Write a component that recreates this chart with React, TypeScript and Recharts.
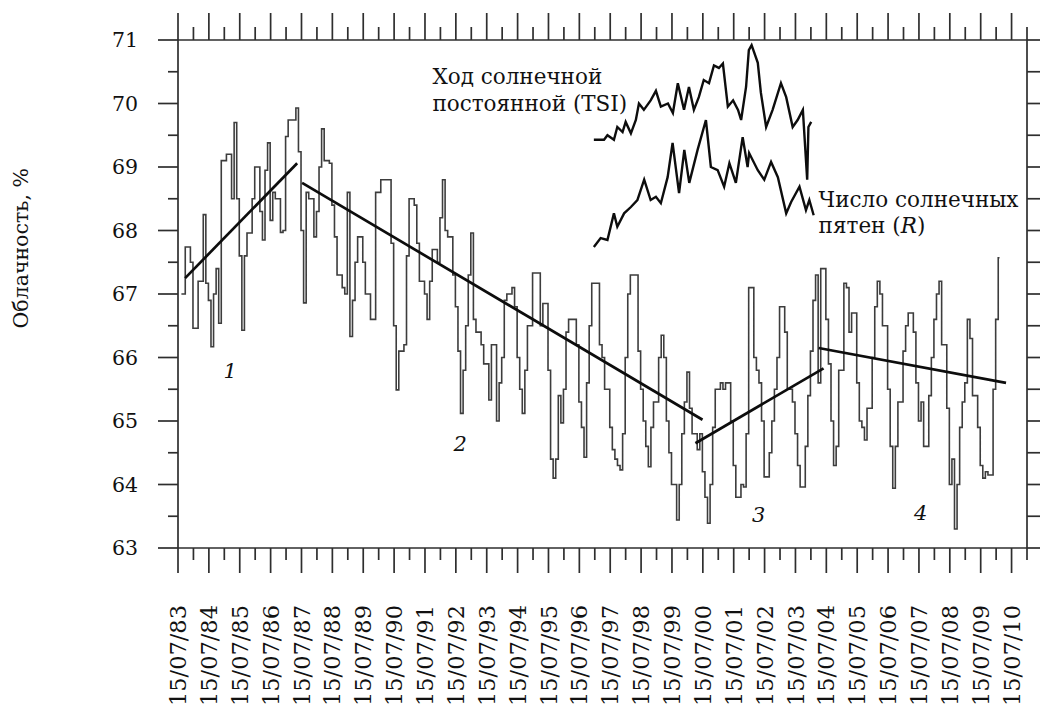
import React from 'react';
import { ComposedChart, Line, XAxis, YAxis, ReferenceDot } from 'recharts';

// ---------- DATA ----------
// Monthly cloudiness (%), first value ~ July/Aug 1983
const SERIES_START = 1983.65;
const cloudiness = [
  67.0, 67.0, 67.74, 67.74, 67.5, 66.46, 66.46, 67.2, 67.2, 68.25, 67.17, 66.9,
  66.17, 67.0, 67.4, 66.54, 69.1, 69.1, 69.2, 69.2, 68.5, 69.7, 68.5, 67.6,
  66.43, 67.6, 67.96, 67.96, 68.5, 69.0, 69.0, 68.3, 67.85, 68.95, 69.38, 68.16,
  68.6, 68.5, 68.5, 67.97, 68.0, 69.48, 69.74, 69.74, 69.74, 69.93, 69.24, 68.0,
  66.86, 68.6, 68.5, 68.5, 67.9, 68.3, 69.0, 69.6, 69.1, 69.1, 69.06, 68.4,
  67.9, 67.3, 67.3, 67.1, 67.0, 68.6, 66.33, 66.9, 67.5, 67.9, 67.9, 67.5,
  67.0, 67.0, 66.6, 66.6, 68.6, 68.6, 68.8, 68.8, 68.8, 68.8, 67.8, 66.5,
  65.49, 66.1, 66.1, 66.2, 67.6, 68.5, 68.5, 68.4, 67.8, 67.2, 67.2, 67.0,
  66.6, 67.2, 67.7, 67.7, 67.5, 68.2, 68.8, 68.0, 67.9, 67.9, 67.3, 66.8,
  66.1, 65.12, 65.8, 66.5, 67.3, 67.96, 66.6, 66.4, 66.4, 66.2, 65.9, 65.9,
  65.33, 66.2, 66.2, 65.0, 65.6, 66.0, 66.9, 67.0, 67.0, 67.1, 66.8, 66.0,
  65.5, 65.12, 65.8, 66.5, 66.5, 67.33, 67.33, 67.33, 66.5, 66.85, 66.85, 65.8,
  64.4, 64.1, 64.4, 65.4, 64.97, 65.5, 66.4, 66.6, 66.6, 66.6, 66.2, 65.3,
  64.9, 64.43, 65.6, 66.5, 67.17, 67.17, 67.17, 66.2, 66.0, 65.5, 65.5, 64.9,
  64.55, 64.4, 64.3, 64.23, 64.8, 66.0, 67.0, 67.3, 67.3, 67.3, 66.1, 65.5,
  65.0, 64.6, 64.28, 64.9, 65.3, 65.3, 66.0, 66.35, 66.0, 65.0, 64.5, 64.0,
  64.0, 63.44, 64.0, 64.8, 65.3, 65.77, 65.2, 64.8, 64.8, 64.55, 64.8, 64.2,
  63.8, 63.39, 64.0, 64.9, 65.5, 65.5, 65.6, 65.5, 65.6, 65.6, 65.0, 64.3,
  63.8, 63.8, 64.0, 63.96, 64.8, 67.1, 67.1, 66.0, 65.8, 65.6, 65.0, 64.12,
  64.12, 64.5, 65.0, 65.5, 66.0, 66.8, 66.8, 66.4, 65.5, 65.5, 65.3, 64.8,
  64.3, 63.96, 63.96, 64.6, 65.4, 66.1, 66.9, 67.3, 65.6, 67.4, 67.4, 66.6,
  65.9, 65.0, 64.3, 64.6, 65.8, 65.8, 67.17, 67.1, 66.4, 66.7, 66.7, 65.6,
  65.0, 64.9, 64.7, 65.2, 65.2, 66.0, 66.8, 67.2, 67.0, 66.5, 66.5, 65.5,
  64.6, 63.94, 64.6, 65.3, 65.3, 66.1, 66.5, 66.7, 66.7, 66.4, 65.6, 65.0,
  65.3, 64.6, 64.6, 65.4, 66.0, 66.6, 67.0, 67.2, 66.2, 66.2, 65.2, 64.0,
  64.4, 63.3, 64.0, 64.9, 65.3, 65.6, 66.6, 66.3, 65.4, 65.4, 64.9, 64.3,
  64.1, 64.2, 64.15, 64.15, 65.5, 66.6, 67.57,
];

const yearLabels = [
  '15/07/83', '15/07/84', '15/07/85', '15/07/86', '15/07/87', '15/07/88', '15/07/89',
  '15/07/90', '15/07/91', '15/07/92', '15/07/93', '15/07/94', '15/07/95', '15/07/96',
  '15/07/97', '15/07/98', '15/07/99', '15/07/00', '15/07/01', '15/07/02', '15/07/03',
  '15/07/04', '15/07/05', '15/07/06', '15/07/07', '15/07/08', '15/07/09', '15/07/10',
];
const X_MIN = 1983.54;
const X_MAX = 2011.04;

const yTicks = [63, 63.5, 64, 64.5, 65, 65.5, 66, 66.5, 67, 67.5, 68, 68.5, 69, 69.5, 70, 70.5, 71];
const yLabelTicks = [63, 64, 65, 66, 67, 68, 69, 70, 71];

// Inset curve: total solar irradiance (schematic, in axis units)
const tsiYears = [
  1997.01, 1997.34, 1997.45, 1997.66, 1997.77, 1997.94, 1998.04, 1998.21, 1998.37, 1998.47,
  1998.63, 1998.85, 1999.02, 1999.18, 1999.41, 1999.57, 1999.73, 1999.93, 2000.09, 2000.25,
  2000.41, 2000.57, 2000.74, 2000.9, 2001.06, 2001.19, 2001.35, 2001.52, 2001.68, 2001.78,
  2001.94, 2002.03, 2002.12, 2002.32, 2002.42, 2002.59, 2002.8, 2003.07, 2003.24, 2003.45,
  2003.61, 2003.78, 2003.92, 2003.96, 2004.05,
];
const tsiValues = [
  69.43, 69.43, 69.5, 69.43, 69.63, 69.55, 69.71, 69.53, 69.74, 70.0,
  69.9, 70.05, 70.2, 69.95, 70.0, 69.85, 70.32, 69.9, 70.26, 69.9,
  70.1, 70.37, 70.32, 70.6, 70.56, 70.63, 69.95, 70.05, 69.9, 69.74,
  70.26, 70.84, 70.92, 70.64, 70.17, 69.63, 69.9, 70.32, 70.1, 69.63,
  69.74, 69.9, 68.8, 69.63, 69.71,
];

// Inset curve: sunspot number (schematic, in axis units)
const sunspotYears = [
  1997.01, 1997.23, 1997.45, 1997.66, 1997.77, 1997.99, 1998.21, 1998.42, 1998.64, 1998.85,
  1999.02, 1999.18, 1999.4, 1999.56, 1999.77, 1999.94, 2000.1, 2000.37, 2000.64, 2000.8,
  2001.02, 2001.23, 2001.4, 2001.61, 2001.83, 2001.99, 2002.04, 2002.32, 2002.53, 2002.75,
  2002.97, 2003.24, 2003.4, 2003.67, 2003.88, 2003.99, 2004.13,
];
const sunspotValues = [
  67.74, 67.88, 67.85, 68.27, 68.06, 68.27, 68.37, 68.48, 68.8, 68.48,
  68.53, 68.43, 68.84, 69.38, 68.59, 69.27, 68.75, 69.27, 69.74, 69.0,
  68.95, 68.69, 69.06, 68.75, 69.47, 69.0, 69.22, 68.95, 68.8, 69.08,
  68.84, 68.27, 68.45, 68.69, 68.32, 68.48, 68.24,
];

// Linear trends of the four periods
const trendStartYears = [1983.77, 1987.56, 2000.3, 2004.29];
const trendEndYears = [1987.4, 2000.53, 2004.45, 2010.36];
const trendStartValues = [67.25, 68.75, 64.65, 66.15];
const trendEndValues = [69.06, 65.02, 65.83, 65.6];

// Period numbers
const periodLabels = ['1', '2', '3', '4'];
const periodYears = [1985.23, 1992.68, 2002.35, 2007.6];
const periodValues = [65.8, 64.65, 63.52, 63.55];

// ---------- derived tables ----------
const mainData = cloudiness.map((v, i) => ({ t: SERIES_START + i / 12, v }));
const tsiData = tsiYears.map((t, i) => ({ t, v: tsiValues[i] }));
const sunspotData = sunspotYears.map((t, i) => ({ t, v: sunspotValues[i] }));
const trendData = trendStartYears.map((t, i) => [
  { t, v: trendStartValues[i] },
  { t: trendEndYears[i], v: trendEndValues[i] },
]);
const xTicks = Array.from({ length: yearLabels.length * 2 }, (_, k) => +(X_MIN + k * 0.5).toFixed(2));

const FONT = '"DejaVu Serif", "Liberation Serif", serif';
const AXIS = '#2e2e2e';
const INK = '#111';

const isMajorX = (v: number) => Math.round((v - X_MIN) * 2) % 2 === 0;
const labelForX = (v: number) => yearLabels[Math.round(v - X_MIN)];

const BottomTick = (p: any) => {
  const { x, y, payload } = p;
  const major = isMajorX(payload.value);
  const ty = y + 57;
  return (
    <g>
      <line x1={x} y1={y} x2={x} y2={y + (major ? 25 : 12)} stroke={AXIS} strokeWidth={1.7} />
      {major && (
        <text
          x={x}
          y={ty}
          dy="0.36em"
          textAnchor="end"
          transform={`rotate(-90, ${x}, ${ty})`}
          fontFamily={FONT}
          fontSize={22.5}
          fill={INK}
        >
          {labelForX(payload.value)}
        </text>
      )}
    </g>
  );
};

const TopTick = (p: any) => {
  const { x, y, payload } = p;
  const major = isMajorX(payload.value);
  return <line x1={x} y1={y} x2={x} y2={y - (major ? 27 : 13)} stroke={AXIS} strokeWidth={1.7} />;
};

const LeftTick = (p: any) => {
  const { x, y, payload } = p;
  const major = yLabelTicks.includes(payload.value);
  return (
    <g>
      <line x1={x} y1={y} x2={x - (major ? 20 : 10)} y2={y} stroke={AXIS} strokeWidth={1.7} />
      {major && (
        <text x={x - 40} y={y} dy="0.36em" textAnchor="end" fontFamily={FONT} fontSize={20.5} fill={INK}>
          {payload.value}
        </text>
      )}
    </g>
  );
};

const RightTick = (p: any) => {
  const { x, y } = p;
  return <line x1={x} y1={y} x2={x + 13} y2={y} stroke={AXIS} strokeWidth={1.7} />;
};

const YTitle = (p: any) => {
  const vb = p.viewBox || { x: 118, y: 40, width: 60, height: 508 };
  const tx = vb.x - 90;
  const ty = vb.y + vb.height * 0.41;
  return (
    <text
      x={tx}
      y={ty}
      textAnchor="middle"
      transform={`rotate(-90, ${tx}, ${ty})`}
      fontFamily={FONT}
      fontSize={20.5}
      fill={INK}
    >
      Облачность, %
    </text>
  );
};

const textAt = (lines: React.ReactNode) => (p: any) => (
  <text x={p.cx} y={p.cy} fontFamily={FONT} fontSize={21.5} fill={INK} textAnchor="start">
    {lines}
  </text>
);

const numberAt = (label: string) => (p: any) => (
  <text
    x={p.cx}
    y={p.cy}
    dy="0.35em"
    textAnchor="middle"
    fontFamily={FONT}
    fontSize={21}
    fontStyle="italic"
    fill={INK}
  >
    {label}
  </text>
);

export default function App() {
  return (
    <div style={{ position: 'absolute', left: 0, top: 0, width: 1041, height: 711, background: '#fff' }}>
      <ComposedChart
        width={1041}
        height={711}
        data={mainData}
        margin={{ top: 0, right: 0, bottom: 13, left: 118 }}
      >
        <XAxis
          xAxisId="bottom"
          dataKey="t"
          type="number"
          orientation="bottom"
          domain={[X_MIN, X_MAX]}
          allowDataOverflow
          ticks={xTicks}
          interval={0}
          height={150}
          tickSize={0}
          tickMargin={0}
          tickLine={false}
          tick={BottomTick}
          axisLine={{ stroke: AXIS, strokeWidth: 1.7 }}
        />
        <XAxis
          xAxisId="top"
          dataKey="t"
          type="number"
          orientation="top"
          domain={[X_MIN, X_MAX]}
          allowDataOverflow
          ticks={xTicks}
          interval={0}
          height={40}
          tickSize={0}
          tickMargin={0}
          tickLine={false}
          tick={TopTick}
          axisLine={{ stroke: AXIS, strokeWidth: 1.7 }}
        />
        <YAxis
          yAxisId="left"
          type="number"
          domain={[63, 71]}
          allowDataOverflow
          ticks={yTicks}
          interval={0}
          width={60}
          tickSize={0}
          tickMargin={0}
          tickLine={false}
          tick={LeftTick}
          axisLine={{ stroke: AXIS, strokeWidth: 1.7 }}
          label={<YTitle />}
        />
        <YAxis
          yAxisId="right"
          orientation="right"
          type="number"
          domain={[63, 71]}
          allowDataOverflow
          ticks={yTicks}
          interval={0}
          width={14}
          tickSize={0}
          tickMargin={0}
          tickLine={false}
          tick={RightTick}
          axisLine={{ stroke: AXIS, strokeWidth: 1.7 }}
        />

        <Line
          xAxisId="bottom"
          yAxisId="left"
          dataKey="v"
          type="step"
          stroke="#3d3d3d"
          strokeWidth={1.6}
          dot={false}
          activeDot={false}
          isAnimationActive={false}
        />
        <Line
          xAxisId="top"
          yAxisId="right"
          data={mainData}
          dataKey="v"
          stroke="none"
          dot={false}
          activeDot={false}
          isAnimationActive={false}
        />
        {trendData.map((d, i) => (
          <Line
            key={`trend${i}`}
            xAxisId="bottom"
            yAxisId="left"
            data={d}
            dataKey="v"
            type="linear"
            stroke="#0d0d0d"
            strokeWidth={2.7}
            dot={false}
            activeDot={false}
            isAnimationActive={false}
          />
        ))}
        <Line
          xAxisId="bottom"
          yAxisId="left"
          data={tsiData}
          dataKey="v"
          type="linear"
          stroke="#0d0d0d"
          strokeWidth={2.4}
          dot={false}
          activeDot={false}
          isAnimationActive={false}
        />
        <Line
          xAxisId="bottom"
          yAxisId="left"
          data={sunspotData}
          dataKey="v"
          type="linear"
          stroke="#0d0d0d"
          strokeWidth={2.4}
          dot={false}
          activeDot={false}
          isAnimationActive={false}
        />

        <ReferenceDot xAxisId="bottom" yAxisId="left" x={1991.78} y={70.31} r={0} ifOverflow="visible"
          shape={textAt('Ход солнечной')} />
        <ReferenceDot xAxisId="bottom" yAxisId="left" x={1991.78} y={69.88} r={0} ifOverflow="visible"
          shape={textAt('постоянной (TSI)')} />
        <ReferenceDot xAxisId="bottom" yAxisId="left" x={2004.29} y={68.37} r={0} ifOverflow="visible"
          shape={textAt('Число солнечных')} />
        <ReferenceDot xAxisId="bottom" yAxisId="left" x={2004.29} y={67.96} r={0} ifOverflow="visible"
          shape={textAt(<>пятен (<tspan fontStyle="italic">R</tspan>)</>)} />
        {periodLabels.map((lab, i) => (
          <ReferenceDot key={`pl${i}`} xAxisId="bottom" yAxisId="left" x={periodYears[i]} y={periodValues[i]}
            r={0} ifOverflow="visible" shape={numberAt(lab)} />
        ))}
      </ComposedChart>
    </div>
  );
}
